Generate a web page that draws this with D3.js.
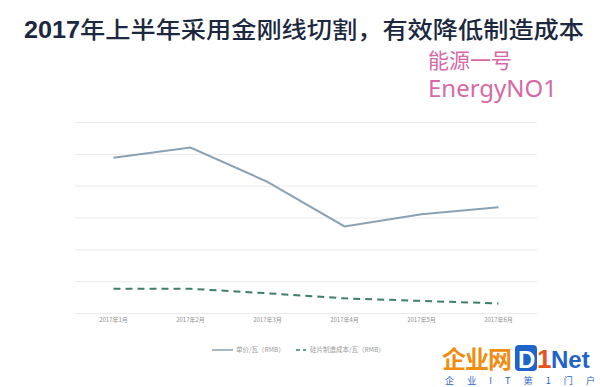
<!DOCTYPE html>
<html>
<head>
<meta charset="utf-8">
<script src="https://cdn.jsdelivr.net/npm/d3@7"></script>
<style>
  body { margin: 0; background: #fff; }
  svg { display: block; font-family: 'Noto Sans CJK SC', 'Noto Sans', sans-serif; }
</style>
</head>
<body>
<div id="chart"></div>
<script>
const months = ['2017年1月', '2017年2月', '2017年3月', '2017年4月', '2017年5月', '2017年6月'];
const unitPrice = [2.44, 2.60, 2.06, 1.36, 1.55, 1.66];
const waferCost = [0.38, 0.38, 0.31, 0.23, 0.19, 0.15];
const seriesNames = ['单价/瓦（RMB）', '硅片制造成本/瓦（RMB）'];
const yTicks = [0, 0.5, 1, 1.5, 2, 2.5, 3];

const width = 600;
const height = 387;
const plot = { left: 75, right: 537, top: 122, bottom: 313 };

const svg = d3.select('#chart')
  .append('svg')
  .attr('width', width)
  .attr('height', height);

// title + source tag
const title = svg.append('text')
  .attr('x', 24)
  .attr('y', 38)
  .attr('font-size', 23)
  .attr('fill', '#1c2740')
  .attr('textLength', 560)
  .attr('lengthAdjust', 'spacingAndGlyphs');
title.append('tspan').attr('font-weight', 'bold').attr('font-family', 'Liberation Sans').text('2017');
title.append('tspan').attr('font-weight', 500).text('年上半年采用金刚线切割，有效降低制造成本');

svg.append('text')
  .attr('x', 428)
  .attr('y', 68)
  .attr('font-size', 21)
  .attr('fill', '#d66aa6')
  .text('能源一号');

svg.append('text')
  .attr('x', 428)
  .attr('y', 97)
  .attr('font-size', 23)
  .attr('fill', '#d66aa6')
  .attr('font-family', 'Noto Sans')
  .attr('textLength', 129)
  .attr('lengthAdjust', 'spacingAndGlyphs')
  .text('EnergyNO1');

const x = d3.scaleBand()
  .domain(months)
  .range([plot.left, plot.right]);

const y = d3.scaleLinear()
  .domain([0, 3])
  .range([plot.bottom, plot.top]);

// grid
svg.append('g')
  .attr('transform', `translate(${plot.left},0)`)
  .call(d3.axisLeft(y).tickValues(yTicks).tickSize(-(plot.right - plot.left)).tickFormat(''))
  .call((g) => g.select('.domain').remove())
  .call((g) => g.selectAll('line').attr('stroke', '#ebebeb'));

// x axis labels
svg.append('g')
  .attr('transform', `translate(0,${plot.bottom})`)
  .call(d3.axisBottom(x).tickSize(0).tickPadding(5))
  .call((g) => g.select('.domain').remove())
  .call((g) => g.selectAll('text')
    .attr('font-size', 6)
    .attr('fill', '#8f8f8f')
    .attr('font-family', 'Noto Sans CJK SC'));

const line = d3.line()
  .x((d, i) => x(months[i]) + x.bandwidth() / 2)
  .y((d) => y(d));

svg.append('path')
  .datum(unitPrice)
  .attr('fill', 'none')
  .attr('stroke', '#8aa1b4')
  .attr('stroke-width', 2)
  .attr('d', line);

svg.append('path')
  .datum(waferCost)
  .attr('fill', 'none')
  .attr('stroke', '#3f7d6c')
  .attr('stroke-width', 2)
  .attr('stroke-dasharray', '7,5')
  .attr('d', line);

// legend
const legend = svg.append('g').attr('font-size', 6.5).attr('fill', '#9a9a9a');
legend.append('line')
  .attr('x1', 212).attr('x2', 233).attr('y1', 350).attr('y2', 350)
  .attr('stroke', '#8aa1b4').attr('stroke-width', 1.5);
legend.append('text').attr('x', 236).attr('y', 352).text(seriesNames[0]);
legend.append('line')
  .attr('x1', 296).attr('x2', 306).attr('y1', 350).attr('y2', 350)
  .attr('stroke', '#3f7d6c').attr('stroke-width', 1.5).attr('stroke-dasharray', '4,3');
legend.append('text').attr('x', 310).attr('y', 352).text(seriesNames[1]);

// watermark logo
const logo = svg.append('g');
logo.append('text')
  .attr('x', 442).attr('y', 368)
  .attr('font-size', 24).attr('font-weight', 'bold')
  .attr('fill', '#f08c10')
  .attr('textLength', 70)
  .text('企业网');
logo.append('rect')
  .attr('x', 515).attr('y', 345).attr('width', 22).attr('height', 26).attr('rx', 4)
  .attr('fill', '#1f64c8');
logo.append('text')
  .attr('x', 518).attr('y', 368)
  .attr('font-size', 24).attr('font-weight', 'bold').attr('font-family', 'Liberation Sans')
  .attr('fill', '#fff').text('D');
logo.append('text')
  .attr('x', 537).attr('y', 368)
  .attr('font-size', 26).attr('font-weight', 'bold').attr('font-family', 'Liberation Sans')
  .attr('fill', '#e8541a').text('1');
logo.append('text')
  .attr('x', 551).attr('y', 368)
  .attr('font-size', 24).attr('font-weight', 'bold').attr('font-family', 'Liberation Sans')
  .attr('fill', '#1f64c8').text('Net');
logo.append('text')
  .attr('x', 445).attr('y', 384)
  .attr('font-size', 9)
  .attr('fill', '#1f64c8')
  .attr('textLength', 150)
  .text('企 业 I T 第 1 门 户');
</script>
</body>
</html>
